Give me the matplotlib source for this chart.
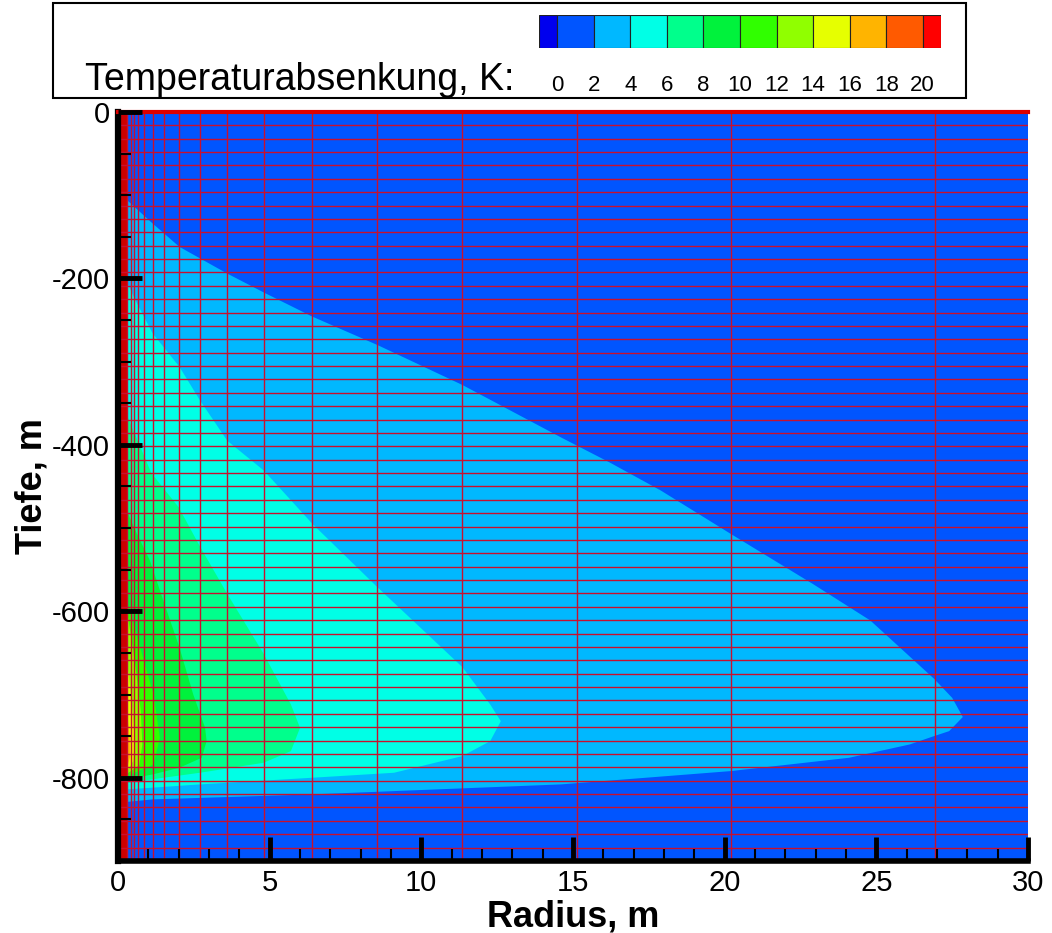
import matplotlib
matplotlib.use("Agg")
import matplotlib.pyplot as plt
import numpy as np
from matplotlib.patches import Rectangle
from matplotlib.ticker import MultipleLocator

plt.rcParams["font.family"] = ["Liberation Sans", "DejaVu Sans"]
plt.rcParams["axes.unicode_minus"] = False

# colour levels (K) and the palette used by the legend / contour bands
levels = [0, 2, 4, 6, 8, 10, 12, 14, 16, 18, 20]
band_colors = ["#0000ee", "#0055ff", "#00b8ff", "#00ffe6", "#00ff8c", "#00f23c",
               "#30ff00", "#90ff00", "#e6ff00", "#ffb400", "#ff5a00", "#ff0000"]

# outlines of each contour band (radius m, depth m)
lvl2_r = [0.3, 1.14, 2.02, 3.59, 4.81, 6.41, 8.55, 11.35, 14.6, 16.2, 17.9, 20.2, 22.9,
          24.8, 26.9, 27.5, 27.85, 27.4, 26.9, 26.1, 24.1, 20.2, 14.6, 6.4, 1.14, 0.3]
lvl2_z = [-106, -134, -162, -194, -217, -246, -280, -328, -391, -421, -455, -507, -567,
          -611, -681, -704, -727, -744, -750, -760, -776, -792, -808, -820, -826, -829]
lvl4_r = [0.3, 0.57, 1.14, 2.02, 2.71, 3.6, 4.81, 6.41, 8.55, 11.35, 12.27, 12.62,
          12.27, 11.35, 9.1, 6.4, 2.7, 0.3]
lvl4_z = [-205, -226, -266, -306, -347, -395, -431, -495, -571, -667, -712, -732,
          -756, -774, -794, -800, -808, -814]
lvl6_r = [0.3, 1.1, 2.0, 2.7, 3.6, 4.8, 5.7, 6.0, 5.7, 4.8, 2.7, 1.1, 0.3]
lvl6_z = [-365, -434, -475, -522, -579, -651, -712, -740, -768, -782, -794, -802, -806]
lvl8_r = [0.3, 0.6, 1.05, 1.53, 2.02, 2.48, 2.87, 2.92, 2.76, 2.02, 1.14, 0.3]
lvl8_z = [-480, -505, -539, -591, -643, -700, -740, -756, -776, -788, -796, -802]
lvl10_r = [0.3, 0.7, 1.17, 1.38, 1.17, 0.3]
lvl10_z = [-590, -640, -700, -752, -784, -798]
lvl12_r = [0.3, 0.55, 0.75, 0.8, 0.7, 0.3]
lvl12_z = [-600, -660, -720, -760, -785, -795]
lvl14_r = [0.3, 0.45, 0.55, 0.5, 0.3]
lvl14_z = [-660, -710, -755, -780, -792]
lvl16_r = [0.3, 0.38, 0.4, 0.3]
lvl16_z = [-720, -750, -775, -788]

# borehole (>20 K) and model mesh
borehole_r = 0.3
mesh_r = [0.3, 0.43, 0.53, 0.66, 0.86, 1.15, 1.52, 2.01, 2.7, 3.59, 4.81, 6.4,
          8.54, 11.34, 15.13, 20.21, 26.94]
n_layers = 56
depth_min, depth_max = -900, 0
radius_max = 30

fig = plt.figure(figsize=(10.52, 9.33), dpi=100)
ax = fig.add_axes([0.1122, 0.0772, 0.865, 0.8028])
ax.set_axisbelow(False)

ax.axhspan(depth_min, depth_max, color=band_colors[1], lw=0, zorder=0)
bands = [(lvl2_r, lvl2_z, 2), (lvl4_r, lvl4_z, 3), (lvl6_r, lvl6_z, 4),
         (lvl8_r, lvl8_z, 5), (lvl10_r, lvl10_z, 6), (lvl12_r, lvl12_z, 7),
         (lvl14_r, lvl14_z, 8), (lvl16_r, lvl16_z, 9)]
for r, z, ci in bands:
    ax.fill([0] + r + [0], [z[0]] + z + [z[-1]], color=band_colors[ci], lw=0, zorder=1)
ax.axvspan(0, borehole_r, color="#cc0000", lw=0, zorder=1.5)

# mesh lines
for r in mesh_r:
    ax.axvline(r, color="#c8102e", lw=1.0, zorder=2)
for z in np.linspace(depth_min, depth_max, n_layers + 1):
    ax.axhline(z, color="#c8102e", lw=1.0, zorder=2)

ax.set_xlim(0, radius_max)
ax.set_ylim(depth_min, depth_max)

ax.spines["right"].set_visible(False)
ax.spines["top"].set_color("#dd0000")
ax.spines["top"].set_linewidth(3)
ax.spines["left"].set_linewidth(4.5)
ax.spines["bottom"].set_linewidth(4)

ax.xaxis.set_major_locator(MultipleLocator(5))
ax.xaxis.set_minor_locator(MultipleLocator(1))
ax.yaxis.set_major_locator(MultipleLocator(200))
ax.yaxis.set_minor_locator(MultipleLocator(50))
ax.tick_params(which="major", direction="in", length=17, width=3.5, labelsize=21,
               pad=6, top=False, right=False)
ax.tick_params(which="minor", direction="in", length=9, width=1.5, top=False, right=False)
ax.tick_params(axis="x", which="major", pad=6)

ax.set_xlabel("Radius, m", fontsize=26, fontweight="bold", va="center")
ax.set_ylabel("Tiefe, m", fontsize=26, fontweight="bold", va="center")
ax.xaxis.set_label_coords(0.5, -0.075)
ax.yaxis.set_label_coords(-0.094, 0.5)

# legend frame
fig.patches.append(Rectangle((0.0504, 0.8950), 0.8679, 0.1018, transform=fig.transFigure,
                             facecolor="white", edgecolor="black", lw=1.5, zorder=10))
fig.text(85 / 1052, 1 - 90 / 933, "Temperaturabsenkung, K:", fontsize=27,
         va="baseline", ha="left", zorder=11)

cax = fig.add_axes([0.5124, 0.9486, 0.3821, 0.0354], zorder=12)
edges = [levels[0] - 1] + levels + [levels[-1] + 1]
cax.bar(edges[:-1], np.ones(len(band_colors)), width=np.diff(edges), align="edge",
        color=band_colors, edgecolor="#222222", lw=0.8)
cax.set_xlim(edges[0], edges[-1])
cax.set_ylim(0, 1)
cax.axis("off")
for lv in levels:
    cax.text(lv, -1.15, str(lv), transform=cax.get_xaxis_transform(),
             ha="center", va="center", fontsize=16)

fig.savefig("out.png", dpi=100)
